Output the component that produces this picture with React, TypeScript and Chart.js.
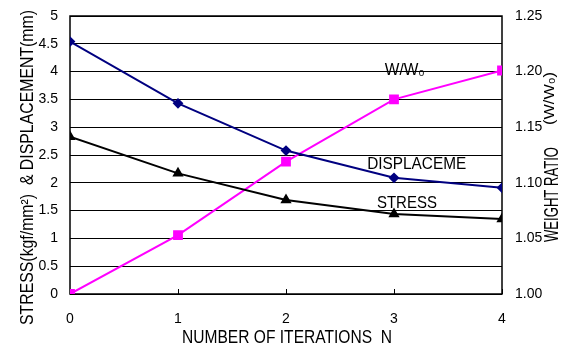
import React, { useEffect, useRef } from "react";
import { Chart, registerables } from "chart.js";

Chart.register(...registerables);

const iterations = [0, 1, 2, 3, 4];
const displacement = [4.54, 3.43, 2.58, 2.09, 1.91];
const stress = [2.83, 2.17, 1.69, 1.44, 1.35];
const weightRatio = [1.0, 1.053, 1.119, 1.175, 1.201];

const leftTitle = "STRESS(kgf/mm\u00B2)  & DISPLACEMENT(mm)";
const rightTitleMain = "WEIGHT RATIO";
const rightTitleSub = "(W/W\u2080)";
const xTitle = "NUMBER OF ITERATIONS  N";

const labels = [
  { text: "W/W\u2080", x: 3.1, y: 4.03 },
  { text: "DISPLACEME", x: 3.21, y: 2.34 },
  { text: "STRESS", x: 3.12, y: 1.64 },
];
const labelWidths = [40, 99, 60];

const FONT = "'Liberation Sans', Arial, sans-serif";

function fitText(ctx: any, text: string, x: number, y: number, size: number, width: number, align: string, rot: number) {
  ctx.save();
  ctx.font = `${size}px ${FONT}`;
  const w = ctx.measureText(text).width;
  ctx.translate(x, y);
  if (rot) ctx.rotate(rot);
  ctx.scale(width / w, 1);
  ctx.textAlign = align;
  ctx.fillText(text, 0, 0);
  ctx.restore();
}

export default function App() {
  const ref = useRef<HTMLCanvasElement | null>(null);

  useEffect(() => {
    if (!ref.current) return;
    const decor = {
      id: "decor",
      beforeDatasetsDraw(chart: any) {
        const { ctx, chartArea: a, scales } = chart;
        ctx.save();
        ctx.strokeStyle = "#000";
        ctx.lineWidth = 1.5;
        ctx.strokeRect(a.left, a.top, a.right - a.left, a.bottom - a.top);
        ctx.lineWidth = 1;
        for (const v of iterations) {
          const px = Math.round(scales.x.getPixelForValue(v)) + 0.5;
          ctx.beginPath();
          ctx.moveTo(px, a.bottom);
          ctx.lineTo(px, a.bottom - 5);
          ctx.stroke();
        }
        ctx.restore();
      },
      afterDraw(chart: any) {
        const { ctx, scales } = chart;
        ctx.save();
        ctx.fillStyle = "#000";
        ctx.textBaseline = "middle";
        labels.forEach((l, i) => {
          fitText(ctx, l.text, scales.x.getPixelForValue(l.x), scales.y.getPixelForValue(l.y), 17, labelWidths[i], "center", 0);
        });
        // x title
        fitText(ctx, xTitle, 287, 338, 17.5, 210, "center", 0);
        ctx.textBaseline = "alphabetic";
        // left title
        fitText(ctx, leftTitle, 33, 325, 18, 315, "left", -Math.PI / 2);
        // right title
        fitText(ctx, rightTitleMain, 558, 242, 19.5, 95, "left", -Math.PI / 2);
        fitText(ctx, rightTitleSub, 554, 125, 14.5, 53, "left", -Math.PI / 2);
        ctx.restore();
      },
    };

    const noPad = (scale: any) => {
      scale.paddingTop = 0;
      scale.paddingBottom = 0;
      scale.paddingLeft = 0;
      scale.paddingRight = 0;
    };

    const chart = new Chart(ref.current, {
      type: "line",
      data: {
        datasets: [
          {
            label: "DISPLACEMENT",
            data: iterations.map((x, i) => ({ x, y: displacement[i] })),
            borderColor: "#000080",
            backgroundColor: "#000080",
            borderWidth: 2,
            pointStyle: "rectRot",
            pointRadius: 4,
            yAxisID: "y",
          },
          {
            label: "STRESS",
            data: iterations.map((x, i) => ({ x, y: stress[i] })),
            borderColor: "#000",
            backgroundColor: "#000",
            borderWidth: 2,
            pointStyle: "triangle",
            pointRadius: 4.5,
            yAxisID: "y",
          },
          {
            label: "W/W0",
            data: iterations.map((x, i) => ({ x, y: weightRatio[i] })),
            borderColor: "#FF00FF",
            backgroundColor: "#FF00FF",
            borderWidth: 2,
            pointStyle: "rect",
            pointRadius: 5.5,
            yAxisID: "y2",
          },
        ],
      },
      options: {
        responsive: false,
        animation: false,
        devicePixelRatio: 1,
        layout: { padding: { top: 16, left: 0, right: 0, bottom: 0 } },
        plugins: { legend: { display: false }, tooltip: { enabled: false } },
        scales: {
          x: {
            type: "linear",
            min: 0,
            max: 4,
            grid: { display: false },
            border: { display: false },
            ticks: {
              stepSize: 1,
              color: "#000",
              font: { family: FONT, size: 14 },
              padding: 9,
            },
            afterFit(scale: any) {
              scale.height = 53;
              noPad(scale);
            },
          },
          y: {
            position: "left",
            min: 0,
            max: 5,
            grid: { color: "#000", lineWidth: 1, drawTicks: false },
            border: { display: false },
            ticks: {
              stepSize: 0.5,
              color: "#000",
              font: { family: FONT, size: 14 },
              padding: 12,
              callback: (v: any) => String(Math.round(Number(v) * 10) / 10),
            },
            afterFit(scale: any) {
              scale.width = 70;
              noPad(scale);
            },
          },
          y2: {
            position: "right",
            min: 1.0,
            max: 1.25,
            grid: { display: false, drawTicks: false },
            border: { display: false },
            ticks: {
              stepSize: 0.05,
              color: "#000",
              font: { family: FONT, size: 14 },
              padding: 13,
              callback: (v: any) => Number(v).toFixed(2),
            },
            afterFit(scale: any) {
              scale.width = 63;
              noPad(scale);
            },
          },
        },
      },
      plugins: [decor],
    });
    return () => chart.destroy();
  }, []);

  return (
    <div style={{ position: "fixed", left: 0, top: 0, width: 565, height: 347, background: "#fff" }}>
      <canvas ref={ref} width={565} height={347} />
    </div>
  );
}
